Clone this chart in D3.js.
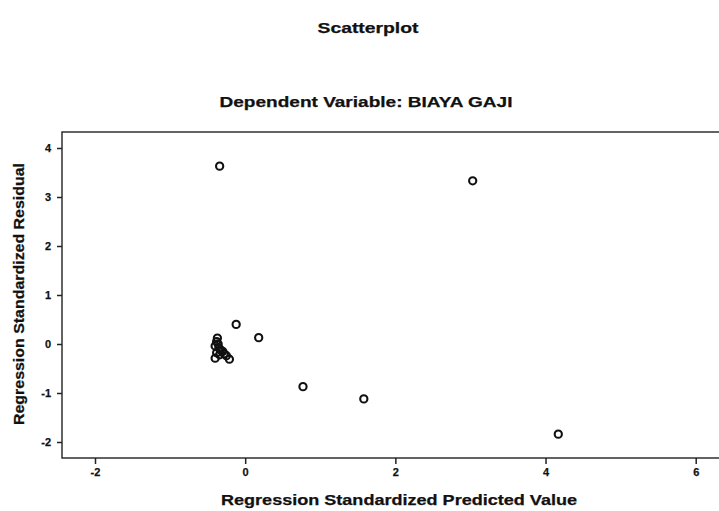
<!DOCTYPE html>
<html><head><meta charset="utf-8">
<script src="https://cdn.jsdelivr.net/npm/d3@7"></script>
<style>body{margin:0;background:#fff}svg{display:block}text{font-family:"Liberation Sans",Arial,sans-serif;font-weight:bold;fill:#111;stroke:#111;stroke-width:0.25px}</style>
</head><body><svg id="c" width="719" height="511"></svg>
<script>
const title = "Scatterplot";
const subtitle = "Dependent Variable: BIAYA GAJI";
const xLabel = "Regression Standardized Predicted Value";
const yLabel = "Regression Standardized Residual";
const xTicks = [-2, 0, 2, 4, 6];
const yTicks = [-2, -1, 0, 1, 2, 3, 4];
const predicted = [-0.34, 3.03, -0.12, 0.18, 0.77, 1.58, 4.17,
  -0.37, -0.38, -0.36, -0.40, -0.35, -0.33, -0.30, -0.28, -0.25, -0.40, -0.21, -0.38, -0.34];
const residual = [3.63, 3.33, 0.40, 0.13, -0.87, -1.12, -1.84,
  0.12, 0.05, 0.00, -0.04, -0.08, -0.12, -0.15, -0.20, -0.24, -0.29, -0.31, -0.18, -0.22];

const svg = d3.select("#c");
const mLeft = 62, mTop = 132, mBottom = 458, mRight = 726;
const x = d3.scaleLinear().domain([-2, 6]).range([95, 695.7]);
const y = d3.scaleLinear().domain([0, 4]).range([344, 148]);
const fmt = d => String(d);

svg.append("rect").attr("x", mLeft).attr("y", mTop).attr("width", mRight - mLeft).attr("height", mBottom - mTop)
  .attr("fill", "none").attr("stroke", "#222").attr("stroke-width", 1.4);

const xa = svg.append("g").attr("transform", `translate(0,${mBottom})`)
  .call(d3.axisBottom(x).tickValues(xTicks).tickSize(6).tickPadding(4).tickFormat(fmt));
xa.select(".domain").remove();
xa.selectAll("line").attr("stroke", "#222").attr("stroke-width", 1.5);
xa.selectAll("text").style("font-size", "11px");

const ya = svg.append("g").attr("transform", `translate(${mLeft},0)`)
  .call(d3.axisLeft(y).tickValues(yTicks).tickSize(5).tickPadding(6).tickFormat(fmt));
ya.select(".domain").remove();
ya.selectAll("line").attr("stroke", "#222").attr("stroke-width", 1.5);
ya.selectAll("text").style("font-size", "11px");

svg.append("g").selectAll("circle").data(predicted.map((p, i) => [p, residual[i]])).join("circle")
  .attr("cx", d => x(d[0])).attr("cy", d => y(d[1])).attr("r", 3.6)
  .attr("fill", "none").attr("stroke", "#111").attr("stroke-width", 2.1);

svg.append("text").attr("x", 368).attr("y", 33).attr("text-anchor", "middle")
  .style("font-size", "15px").attr("textLength", 101).attr("lengthAdjust", "spacingAndGlyphs").text(title);
svg.append("text").attr("x", 366).attr("y", 107).attr("text-anchor", "middle")
  .style("font-size", "15px").attr("textLength", 293).attr("lengthAdjust", "spacingAndGlyphs").text(subtitle);
svg.append("text").attr("x", 399).attr("y", 505).attr("text-anchor", "middle")
  .style("font-size", "15px").attr("textLength", 356).attr("lengthAdjust", "spacingAndGlyphs").text(xLabel);
svg.append("text").attr("transform", "translate(24,294) rotate(-90)").attr("text-anchor", "middle")
  .style("font-size", "15px").attr("textLength", 262).attr("lengthAdjust", "spacingAndGlyphs").text(yLabel);
</script></body></html>
